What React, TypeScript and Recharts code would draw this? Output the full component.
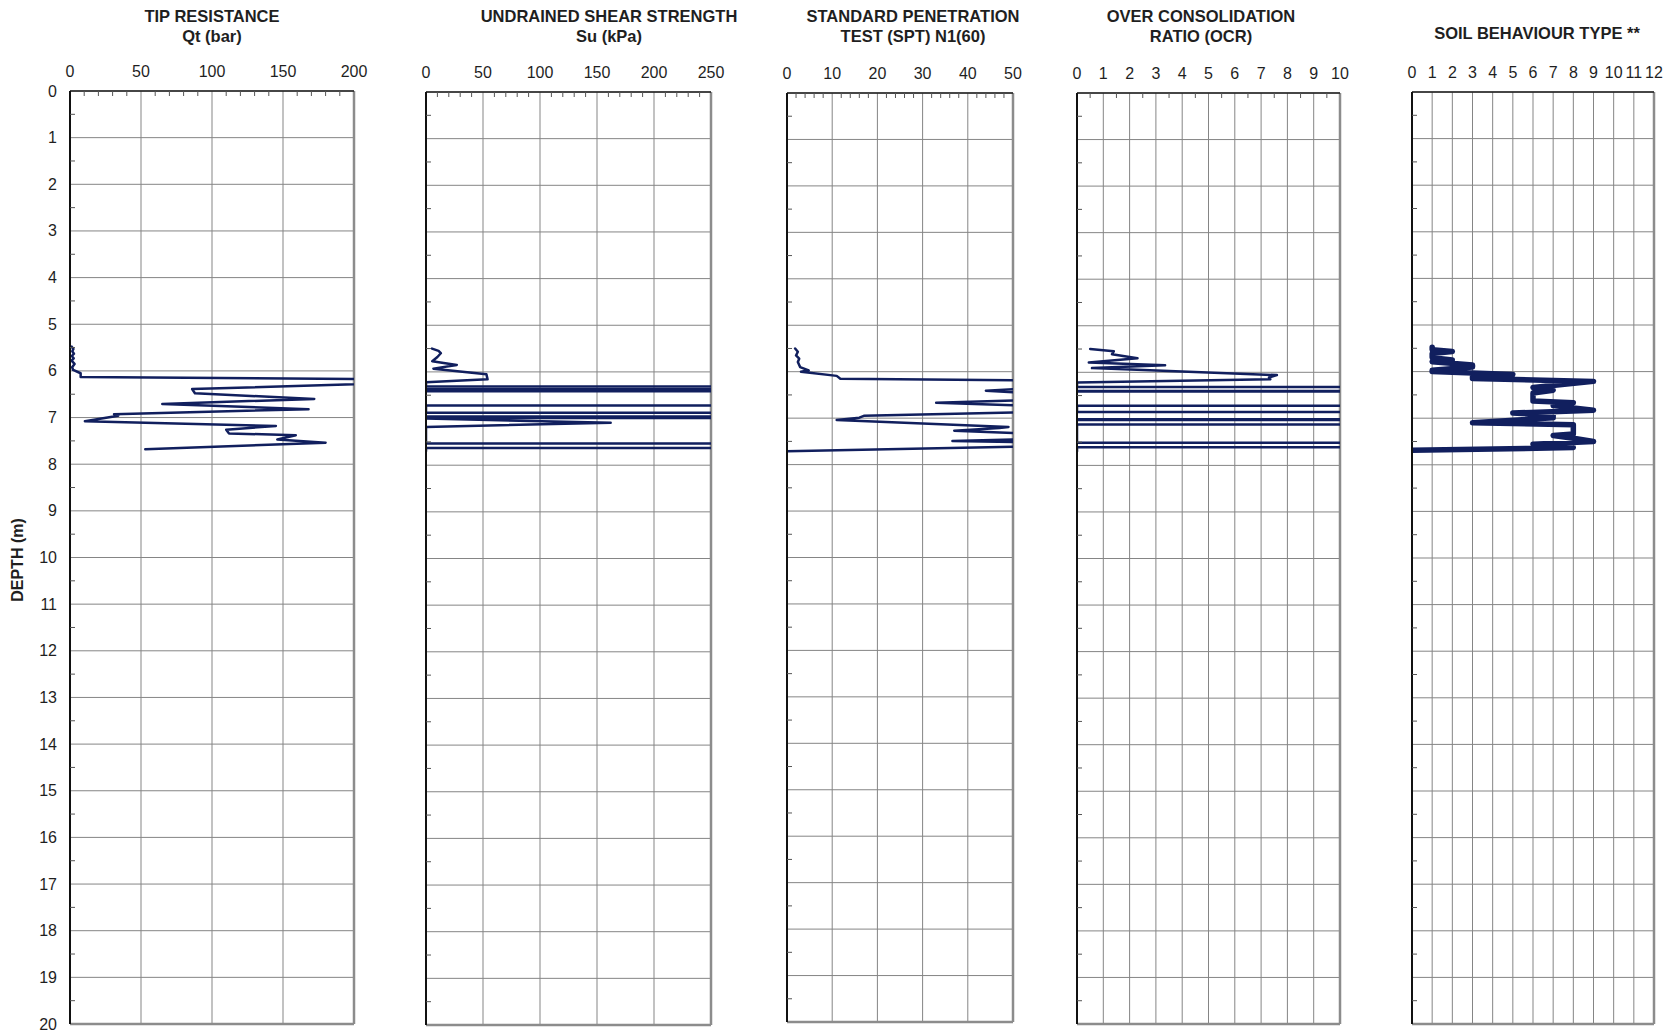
import React from 'react'
import { CartesianGrid, Line, LineChart, ReferenceLine, XAxis, YAxis } from 'recharts'

const NAVY = '#111f5e'
const FONT = '"Liberation Sans", Arial, Helvetica, sans-serif'
const INK = '#1f1f1f'

// depth axis (m)
const depthLabels = [0, 1, 2, 3, 4, 5, 6, 7, 8, 9, 10, 11, 12, 13, 14, 15, 16, 17, 18, 19, 20]
const depthTicks = [
  0, 0.5, 1, 1.5, 2, 2.5, 3, 3.5, 4, 4.5, 5, 5.5, 6, 6.5, 7, 7.5, 8, 8.5, 9, 9.5, 10,
  10.5, 11, 11.5, 12, 12.5, 13, 13.5, 14, 14.5, 15, 15.5, 16, 16.5, 17, 17.5, 18, 18.5, 19, 19.5, 20,
]

// tip resistance Qt (bar)
const qtMajor = [0, 50, 100, 150, 200]
const qtTicks = [0, 10, 20, 30, 40, 50, 60, 70, 80, 90, 100, 110, 120, 130, 140, 150, 160, 170, 180, 190, 200]
const qtDepth = [5.48, 5.53, 5.58, 5.63, 5.68, 5.73, 5.78, 5.85, 5.92, 5.98, 6.05, 6.13, 6.2, 6.39, 6.48, 6.6, 6.71, 6.82, 6.93, 6.96, 7.08, 7.18, 7.26, 7.34, 7.38, 7.47, 7.54, 7.68]
const qtValue = [1.2, 2.4, 1.6, 2.8, 1.3, 2.6, 1.1, 3.2, 1.5, 2.2, 7.5, 7.5, 300, 86, 88, 172, 65, 168, 31, 34, 10.5, 145, 110, 112, 159, 146, 180, 53]

// undrained shear strength Su (kPa)
const suMajor = [0, 50, 100, 150, 200, 250]
const suTicks = [0, 10, 20, 30, 40, 50, 60, 70, 80, 90, 100, 110, 120, 130, 140, 150, 160, 170, 180, 190, 200, 210, 220, 230, 240, 250]
const suDepth = [5.5, 5.55, 5.6, 5.68, 5.77, 5.85, 5.93, 6.05, 6.16, 6.22, 6.315, 6.32, 6.365, 6.37, 6.415, 6.42, 6.715, 6.72, 6.875, 6.88, 6.95, 6.955, 6.975, 6.98, 6.985, 6.99, 7.0, 7.09, 7.18, 7.535, 7.54, 7.625, 7.63, 7.7]
const suValue = [5.3, 11, 13, 10, 5.5, 27, 6.5, 53, 54, 0, 0, 2000, 2000, 0, 0, 2000, 2000, 0, 0, 2000, 2000, 0, 0, 2000, 2000, 0, 0, 162, 0, 0, 2000, 2000, 0, 0]

// SPT N1(60)
const sptMajor = [0, 10, 20, 30, 40, 50]
const sptTicks = [0, 2, 4, 6, 8, 10, 12, 14, 16, 18, 20, 22, 24, 26, 28, 30, 32, 34, 36, 38, 40, 42, 44, 46, 48, 50]
const sptDepth = [5.5, 5.57, 5.65, 5.72, 5.79, 5.9, 5.97, 6.0, 6.09, 6.15, 6.19, 6.33, 6.41, 6.49, 6.59, 6.67, 6.75, 6.86, 6.95, 6.99, 7.04, 7.19, 7.21, 7.27, 7.36, 7.44, 7.49, 7.53, 7.6, 7.71]
const sptValue = [1.8, 2.4, 2.0, 2.7, 2.4, 2.9, 4.8, 3.1, 11, 11.8, 60, 60, 44, 60, 60, 33, 60, 60, 17, 16, 11, 49, 47, 37, 60, 60, 36.6, 60, 60, 0]

// OCR
const ocrMajor = [0, 1, 2, 3, 4, 5, 6, 7, 8, 9, 10]
const ocrTicks = [0, 0.5, 1, 1.5, 2, 2.5, 3, 3.5, 4, 4.5, 5, 5.5, 6, 6.5, 7, 7.5, 8, 8.5, 9, 9.5, 10]
const ocrDepth = [5.5, 5.55, 5.61, 5.7, 5.79, 5.85, 5.91, 6.06, 6.11, 6.15, 6.22, 6.315, 6.32, 6.395, 6.4, 6.415, 6.42, 6.715, 6.72, 6.855, 6.86, 7.005, 7.01, 7.025, 7.03, 7.115, 7.12, 7.515, 7.52, 7.605, 7.61, 7.7]
const ocrValue = [0.5, 1.4, 1.33, 2.3, 0.45, 3.35, 0.57, 7.6, 7.3, 7.35, 0, 0, 500, 500, 0, 0, 500, 500, 0, 0, 500, 500, 0, 0, 500, 500, 0, 0, 500, 500, 0, 0]

// soil behaviour type
const sbtMajor = [0, 1, 2, 3, 4, 5, 6, 7, 8, 9, 10, 11, 12]
const sbtDepth = [5.48, 5.53, 5.57, 5.61, 5.7, 5.75, 5.79, 5.86, 5.9, 5.97, 6.0, 6.03, 6.06, 6.11, 6.15, 6.21, 6.34, 6.4, 6.46, 6.63, 6.67, 6.73, 6.83, 6.89, 6.93, 6.99, 7.1, 7.14, 7.34, 7.37, 7.43, 7.5, 7.56, 7.63, 7.69]
const sbtValue = [1, 1, 2, 1, 1, 2, 1, 3, 3, 1, 1, 3, 5, 3, 3, 9, 6, 7, 6, 6, 8, 7, 9, 5, 7, 7, 3, 8, 8, 7, 8, 9, 6, 8, 0]

type Panel = {
  id: string
  title: string[]
  titleX: number
  titleY: number
  left: number
  top: number
  right: number
  bottom: number
  max: number
  ticks: number[]
  majors: number[]
  depth: number[]
  value: number[]
  lineWidth: number
  depthLabels?: boolean
}

const panels: Panel[] = [
  { id: 'qt', title: ['TIP RESISTANCE', 'Qt (bar)'], titleX: 212, titleY: 16, left: 70, top: 91, right: 354, bottom: 1024, max: 200, ticks: qtTicks, majors: qtMajor, depth: qtDepth, value: qtValue, lineWidth: 2.5, depthLabels: true },
  { id: 'su', title: ['UNDRAINED SHEAR STRENGTH', 'Su (kPa)'], titleX: 609, titleY: 16, left: 426, top: 92, right: 711, bottom: 1025, max: 250, ticks: suTicks, majors: suMajor, depth: suDepth, value: suValue, lineWidth: 2.5 },
  { id: 'spt', title: ['STANDARD PENETRATION', 'TEST (SPT) N1(60)'], titleX: 913, titleY: 16, left: 787, top: 93, right: 1013, bottom: 1022, max: 50, ticks: sptTicks, majors: sptMajor, depth: sptDepth, value: sptValue, lineWidth: 2.5 },
  { id: 'ocr', title: ['OVER CONSOLIDATION', 'RATIO (OCR)'], titleX: 1201, titleY: 16, left: 1077, top: 93, right: 1340, bottom: 1024, max: 10, ticks: ocrTicks, majors: ocrMajor, depth: ocrDepth, value: ocrValue, lineWidth: 2.5 },
  { id: 'sbt', title: ['SOIL BEHAVIOUR TYPE **'], titleX: 1537, titleY: 33, left: 1412, top: 92, right: 1654, bottom: 1024, max: 12, ticks: sbtMajor, majors: sbtMajor, depth: sbtDepth, value: sbtValue, lineWidth: 5.5 },
]

const XH = 50
const MR = 18
const MB = 10

function PanelChart({ p }: { p: Panel }) {
  const yw = p.depthLabels ? 70 : 10
  const w = p.right - p.left
  const h = p.bottom - p.top
  const data = p.depth.map((d, i) => ({ d, v: p.value[i] }))

  const topTick = (tp: any) => {
    const v = tp.payload.value
    if (p.majors.includes(v)) {
      return (
        <text x={tp.x} y={XH - 20} textAnchor="middle" dominantBaseline="central" fontSize={16} fontFamily={FONT} fill={INK}>
          {v}
        </text>
      )
    }
    return <line x1={tp.x} x2={tp.x} y1={XH} y2={XH + 5} stroke="#555" strokeWidth={1} />
  }

  const leftTick = (tp: any) => {
    const v = tp.payload.value
    if (Number.isInteger(v)) {
      if (!p.depthLabels) return <g />
      return (
        <text x={yw - 13} y={tp.y} textAnchor="end" dominantBaseline="central" fontSize={16} fontFamily={FONT} fill={INK}>
          {v}
        </text>
      )
    }
    return <line x1={yw} x2={yw + 5} y1={tp.y} y2={tp.y} stroke="#555" strokeWidth={1} />
  }

  return (
    <div style={{ position: 'absolute', left: p.left - yw, top: p.top - XH }}>
      <LineChart
        layout="vertical"
        width={yw + w + MR}
        height={XH + h + MB}
        data={data}
        margin={{ top: 0, right: MR, bottom: MB, left: 0 }}
      >
        <CartesianGrid stroke="#858585" strokeWidth={1} verticalValues={p.majors} horizontalValues={depthLabels} />
        <XAxis
          type="number"
          orientation="top"
          domain={[0, p.max]}
          allowDataOverflow
          ticks={p.ticks}
          interval={0}
          tickLine={false}
          axisLine={{ stroke: '#1c1c1c', strokeWidth: 1.5 }}
          height={XH}
          tick={topTick}
        />
        <YAxis
          type="number"
          dataKey="d"
          domain={[0, 20]}
          allowDataOverflow
          ticks={depthTicks}
          interval={0}
          tickLine={false}
          axisLine={{ stroke: '#111', strokeWidth: 2 }}
          width={yw}
          tick={leftTick}
        />
        <ReferenceLine x={p.max} stroke="#8c8c8c" strokeWidth={2.5} />
        <ReferenceLine y={20} stroke="#8c8c8c" strokeWidth={2.5} />
        <Line
          dataKey="v"
          stroke={NAVY}
          strokeWidth={p.lineWidth}
          strokeLinejoin="round"
          strokeLinecap="round"
          dot={false}
          activeDot={false}
          isAnimationActive={false}
        />
      </LineChart>
    </div>
  )
}

export default function App() {
  return (
    <div style={{ position: 'absolute', left: 0, top: 0, width: 1673, height: 1034, background: '#fff', fontFamily: FONT, color: INK }}>
      {panels.map((p) => (
        <div
          key={p.id + '-title'}
          style={{
            position: 'absolute',
            left: p.titleX - 200,
            top: p.titleY - 10,
            width: 400,
            textAlign: 'center',
            fontWeight: 'bold',
            fontSize: 16.5,
            lineHeight: '20px',
          }}
        >
          {p.title.map((t) => (
            <div key={t}>{t}</div>
          ))}
        </div>
      ))}
      <div
        style={{
          position: 'absolute',
          left: 18 - 60,
          top: 560 - 10,
          width: 120,
          height: 20,
          lineHeight: '20px',
          textAlign: 'center',
          fontWeight: 'bold',
          fontSize: 16,
          transform: 'rotate(-90deg)',
        }}
      >
        DEPTH (m)
      </div>
      {panels.map((p) => (
        <PanelChart key={p.id} p={p} />
      ))}
    </div>
  )
}
